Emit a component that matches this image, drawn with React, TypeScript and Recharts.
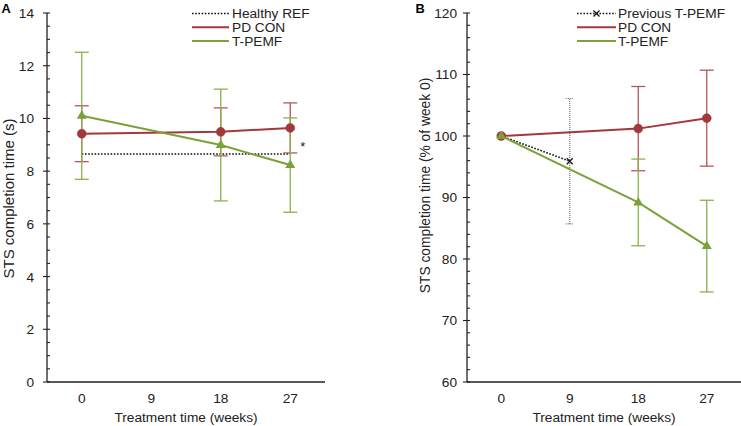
import { ErrorBar, Legend, Line, LineChart, ReferenceDot, XAxis, YAxis } from 'recharts';

const FONT = '"Liberation Sans", Arial, Helvetica, sans-serif';
const RED = '#A3383C';
const RED_BAR = '#B4565A';
const GREEN = '#7BA23A';
const GREEN_BAR = '#8CAF4E';
const INK = '#222';
const FS = 13.7;

const WEEKS = [0, 9, 18, 27];

// Panel A: completion time in seconds (mean, SD)
const HEALTHY_REF = [8.65, null, null, 8.65];
const PD_CON_A = [9.42, null, 9.49, 9.64];
const PD_CON_A_SD = [1.06, null, 0.91, 0.95];
const TPEMF_A = [10.1, null, 8.99, 8.23];
const TPEMF_A_SD = [2.41, null, 2.12, 1.79];
const Y_MAJOR_A = [0, 2, 4, 6, 8, 10, 12, 14];

// Panel B: % of week 0 (mean, SD)
const PREV_TPEMF = [100, 95.9, null, null];
const PREV_TPEMF_SD = [null, 10.2, null, null];
const PD_CON_B = [100, null, 101.2, 102.9];
const PD_CON_B_SD = [null, null, 6.85, 7.8];
const TPEMF_B = [100, null, 89.2, 82.1];
const TPEMF_B_SD = [null, null, 7.05, 7.45];
const Y_MAJOR_B = [60, 70, 80, 90, 100, 110, 120];

const withMinor = (majors: number[], parts: number) => {
  const out: number[] = [];
  majors.forEach((m, i) => {
    out.push(m);
    if (i < majors.length - 1) {
      const step = (majors[i + 1] - m) / parts;
      for (let k = 1; k < parts; k++) out.push(m + k * step);
    }
  });
  return out;
};

const dataA = WEEKS.map((week, i) => ({
  week,
  healthy: HEALTHY_REF[i],
  pdCon: PD_CON_A[i],
  pdConSd: PD_CON_A_SD[i],
  tpemf: TPEMF_A[i],
  tpemfSd: TPEMF_A_SD[i],
}));

const dataB = WEEKS.map((week, i) => ({
  week,
  prev: PREV_TPEMF[i],
  prevSd: PREV_TPEMF_SD[i],
  pdCon: PD_CON_B[i],
  pdConSd: PD_CON_B_SD[i],
  tpemf: TPEMF_B[i],
  tpemfSd: TPEMF_B_SD[i],
}));

function makeYTick(majors: number[], margin: number) {
  return function YTick(props: any) {
    const { x, y, payload } = props;
    const ax = x + margin;
    const major = majors.includes(payload.value);
    return (
      <g>
        <line x1={major ? ax - 4 : ax} x2={ax + 3} y1={y} y2={y} stroke={INK} strokeWidth={1.1} />
        {major && (
          <text x={x} y={y} dy="0.36em" textAnchor="end" fontSize={FS} fill={INK}>
            {payload.value}
          </text>
        )}
      </g>
    );
  };
}

const circleDot = (p: any) =>
  p.cy == null ? <g key={p.index} /> : <circle key={p.index} cx={p.cx} cy={p.cy} r={4.5} fill={RED} stroke={RED} strokeWidth={0.5} />;

const triangleDot = (p: any) =>
  p.cy == null ? (
    <g key={p.index} />
  ) : (
    <path key={p.index} d={`M${p.cx},${p.cy - 5.5} L${p.cx + 5},${p.cy + 3} L${p.cx - 5},${p.cy + 3} Z`} fill={GREEN} />
  );

const crossDot = (p: any) =>
  p.cy == null ? (
    <g key={p.index} />
  ) : (
    <g key={p.index} stroke="#111" strokeWidth={1.3}>
      <line x1={p.cx - 3} y1={p.cy - 3} x2={p.cx + 3} y2={p.cy + 3} />
      <line x1={p.cx - 3} y1={p.cy + 3} x2={p.cx + 3} y2={p.cy - 3} />
    </g>
  );

type LegendItem = { name: string; color: string; dotted?: boolean; cross?: boolean };

function LegendBox({ items, lineLen, gap }: { items: LegendItem[]; lineLen: number; gap: number }) {
  return (
    <svg width={160} height={48} style={{ display: 'block', overflow: 'visible' }}>
      {items.map((it, i) => (
        <g key={it.name} transform={`translate(0, ${13.5 + i * 13.7})`}>
          <line
            x1={0}
            x2={lineLen}
            y1={0}
            y2={0}
            stroke={it.color}
            strokeWidth={it.dotted ? 1.6 : 2}
            strokeDasharray={it.dotted ? '1.6 1.6' : undefined}
          />
          {it.cross && (
            <g stroke="#111" strokeWidth={1.2}>
              <line x1={lineLen / 2 - 3} y1={-3} x2={lineLen / 2 + 3} y2={3} />
              <line x1={lineLen / 2 - 3} y1={3} x2={lineLen / 2 + 3} y2={-3} />
            </g>
          )}
          <text x={lineLen + gap} y={0} dy="0.36em" fontSize={FS} fill={INK}>
            {it.name}
          </text>
        </g>
      ))}
    </svg>
  );
}

const yLabel = (text: string, dx: number, dy: number, size: number) => (props: any) => {
  const vb = props.viewBox;
  return (
    <text
      transform={`translate(${vb.x + dx}, ${vb.y + vb.height / 2 + dy}) rotate(-90)`}
      textAnchor="middle"
      fontSize={size}
      fill={INK}
    >
      {text}
    </text>
  );
};

const xLabel = (props: any) => {
  const vb = props.viewBox;
  return (
    <text x={vb.x + vb.width / 2} y={vb.y + 40} textAnchor="middle" fontSize={FS} fill={INK}>
      Treatment time (weeks)
    </text>
  );
};

const xAxisProps = {
  dataKey: 'week',
  type: 'number' as const,
  domain: [-4.5, 31.5],
  ticks: WEEKS,
  tickLine: false,
  tickSize: 0,
  tickMargin: 11,
  height: 30,
  tick: { fontSize: FS, fill: INK },
  axisLine: { stroke: INK, strokeWidth: 1.3 },
  label: { content: xLabel },
};

export default function App() {
  return (
    <div style={{ position: 'absolute', left: 0, top: 0, width: 741, height: 426, background: '#fff', fontFamily: FONT }}>
      <div style={{ position: 'absolute', left: 0, top: 0 }}>
        <LineChart width={370} height={426} data={dataA} margin={{ top: 13, right: 45, bottom: 14, left: 7 }}>
          <XAxis {...xAxisProps} />
          <YAxis
            width={40}
            domain={[0, 14]}
            ticks={withMinor(Y_MAJOR_A, 4)}
            interval={0}
            tickLine={false}
            tickSize={0}
            tickMargin={13}
            tick={makeYTick(Y_MAJOR_A, 13)}
            axisLine={{ stroke: INK, strokeWidth: 1.3 }}
            label={{ content: yLabel('STS completion time (s)', 6.5, 1, 15) }}
          />
          <Legend
            layout="vertical"
            align="center"
            verticalAlign="middle"
            wrapperStyle={{ left: 192, top: 0, width: 160 }}
            content={() => (
              <LegendBox
                lineLen={37}
                gap={3}
                items={[
                  { name: 'Healthy REF', color: '#111', dotted: true },
                  { name: 'PD CON', color: RED },
                  { name: 'T-PEMF', color: GREEN },
                ]}
              />
            )}
          />
          <Line
            dataKey="healthy"
            stroke="#111"
            strokeWidth={1.6}
            strokeDasharray="1.6 1.6"
            dot={false}
            activeDot={false}
            connectNulls
            isAnimationActive={false}
          />
          <Line dataKey="pdCon" stroke={RED} strokeWidth={2} dot={circleDot} activeDot={false} connectNulls isAnimationActive={false}>
            <ErrorBar dataKey="pdConSd" direction="y" width={7} stroke={RED_BAR} strokeWidth={1.3} />
          </Line>
          <Line dataKey="tpemf" stroke={GREEN} strokeWidth={2} dot={triangleDot} activeDot={false} connectNulls isAnimationActive={false}>
            <ErrorBar dataKey="tpemfSd" direction="y" width={7} stroke={GREEN_BAR} strokeWidth={1.3} />
          </Line>
          <ReferenceDot
            x={WEEKS[3]}
            y={HEALTHY_REF[3] as number}
            r={0}
            fill="none"
            stroke="none"
            label={{
              content: (p: any) => (
                <text x={p.viewBox.x + 10} y={p.viewBox.y - 3} fontSize={13} fill={INK}>
                  *
                </text>
              ),
            }}
          />
        </LineChart>
      </div>
      <div style={{ position: 'absolute', left: 370, top: 0 }}>
        <LineChart width={371} height={426} data={dataB} margin={{ top: 13, right: 0, bottom: 14, left: 37 }}>
          <XAxis {...xAxisProps} />
          <YAxis
            width={60}
            domain={[60, 120]}
            ticks={withMinor(Y_MAJOR_B, 5)}
            interval={0}
            tickLine={false}
            tickSize={0}
            tickMargin={10}
            tick={makeYTick(Y_MAJOR_B, 10)}
            axisLine={{ stroke: INK, strokeWidth: 1.3 }}
            label={{ content: yLabel('STS completion time (% of week 0)', 23, -12, 13.8) }}
          />
          <Legend
            layout="vertical"
            align="center"
            verticalAlign="middle"
            wrapperStyle={{ left: 207, top: 0, width: 160 }}
            content={() => (
              <LegendBox
                lineLen={39}
                gap={2}
                items={[
                  { name: 'Previous T-PEMF', color: '#111', dotted: true, cross: true },
                  { name: 'PD CON', color: RED },
                  { name: 'T-PEMF', color: GREEN },
                ]}
              />
            )}
          />
          <Line
            dataKey="prev"
            stroke="#111"
            strokeWidth={1.6}
            strokeDasharray="1.6 1.6"
            dot={crossDot}
            activeDot={false}
            connectNulls
            isAnimationActive={false}
          >
            <ErrorBar dataKey="prevSd" direction="y" width={4} stroke="#777" strokeWidth={1.2} strokeDasharray="1 1" />
          </Line>
          <Line dataKey="pdCon" stroke={RED} strokeWidth={2} dot={circleDot} activeDot={false} connectNulls isAnimationActive={false}>
            <ErrorBar dataKey="pdConSd" direction="y" width={7} stroke={RED_BAR} strokeWidth={1.3} />
          </Line>
          <Line dataKey="tpemf" stroke={GREEN} strokeWidth={2} dot={triangleDot} activeDot={false} connectNulls isAnimationActive={false}>
            <ErrorBar dataKey="tpemfSd" direction="y" width={7} stroke={GREEN_BAR} strokeWidth={1.3} />
          </Line>
        </LineChart>
      </div>
      <svg width={741} height={426} style={{ position: 'absolute', left: 0, top: 0, pointerEvents: 'none' }}>
        <text x={1.5} y={12.5} fontSize={12.8} fontWeight="bold" fill="#000">
          A
        </text>
        <text x={415.5} y={12.5} fontSize={12.8} fontWeight="bold" fill="#000">
          B
        </text>
      </svg>
    </div>
  );
}
